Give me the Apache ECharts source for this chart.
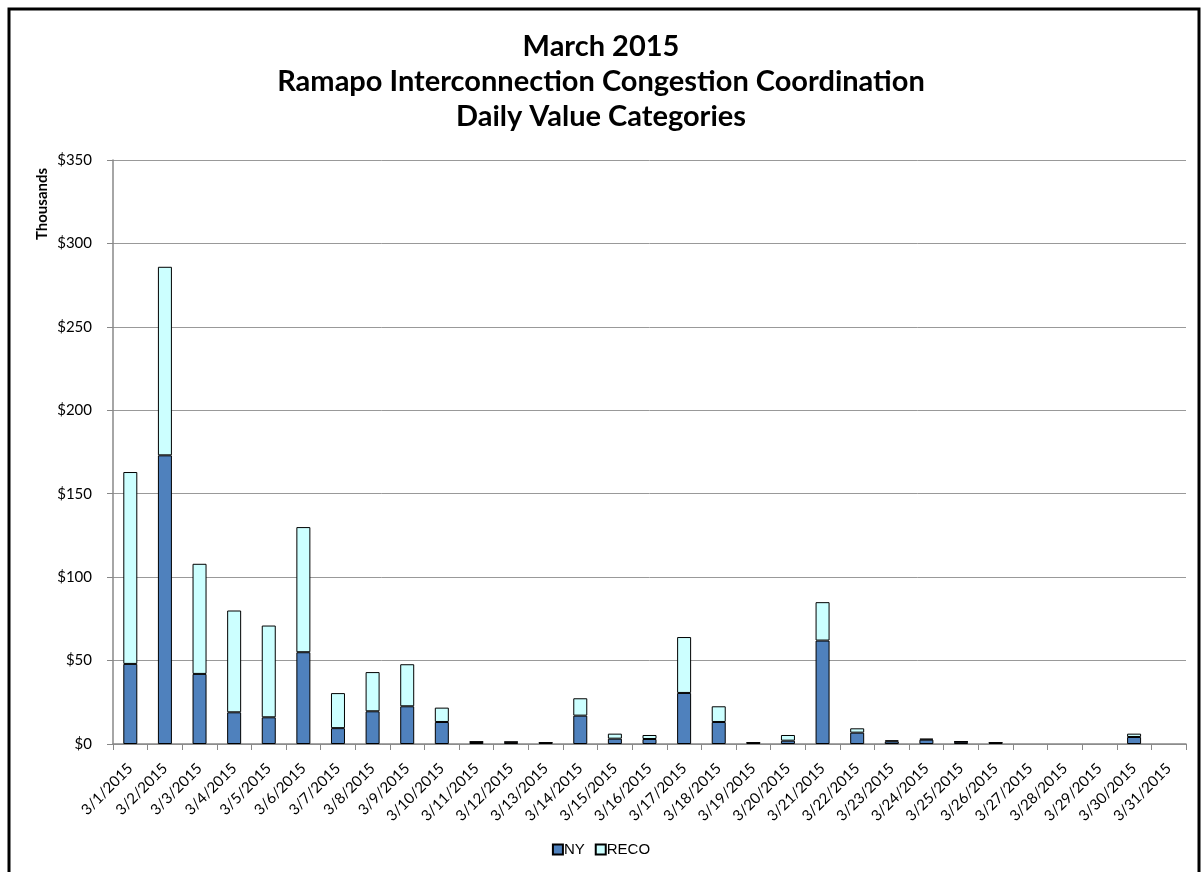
<!DOCTYPE html>
<html><head><meta charset="utf-8">
<script src="https://cdn.jsdelivr.net/npm/echarts@6/dist/echarts.min.js"></script>
<style>html,body{margin:0;padding:0;background:#fff}#c{width:1202px;height:872px}</style>
</head><body><div id="c"></div>
<script>
const categories = ['3/1/2015','3/2/2015','3/3/2015','3/4/2015','3/5/2015','3/6/2015','3/7/2015','3/8/2015','3/9/2015','3/10/2015','3/11/2015','3/12/2015','3/13/2015','3/14/2015','3/15/2015','3/16/2015','3/17/2015','3/18/2015','3/19/2015','3/20/2015','3/21/2015','3/22/2015','3/23/2015','3/24/2015','3/25/2015','3/26/2015','3/27/2015','3/28/2015','3/29/2015','3/30/2015','3/31/2015'];
const nyValues =   [48, 173, 42, 19, 16, 55, 9.5, 19.6, 22.6, 13.2, 1.2, 1.1, 0.7, 17, 3.2, 3.0, 30.6, 13.2, 0.7, 2.0, 62, 6.8, 1.6, 2.6, 1.3, 0.7, 0, 0, 0, 4.2, 0];
const recoValues = [115, 113, 66, 61, 55, 75, 21, 23.5, 25.2, 8.6, 0.3, 0.3, 0.2, 10.4, 3.0, 2.4, 33.5, 9.4, 0.2, 3.4, 23, 2.6, 0.6, 0.6, 0.3, 0.2, 0, 0, 0, 2.0, 0];
const yTicks = [0, 50, 100, 150, 200, 250, 300, 350];
const titleLines = ['March 2015', 'Ramapo Interconnection Congestion Coordination', 'Daily Value Categories'];

const chart = echarts.init(document.getElementById('c'), null, {renderer: 'canvas'});
const font = 'Lato, "Open Sans", sans-serif';
const noZero = arr => arr.map(v => v === 0 ? null : v);
chart.setOption({
  animation: false,
  backgroundColor: '#fff',
  title: {
    text: titleLines.join('\n'),
    left: 'center', top: 24,
    textStyle: {fontFamily: font, fontWeight: 'bold', fontSize: 29, color: '#000', lineHeight: 35}
  },
  graphic: [{
    type: 'rect', shape: {x: 9, y: 9, width: 1190, height: 880},
    style: {fill: 'none', stroke: '#000', lineWidth: 3}, silent: true
  }, {
    type: 'text', x: 35, y: 204, rotation: Math.PI / 2,
    style: {text: 'Thousands', fontFamily: 'Lato', fontWeight: 'bold', fontSize: 15, fill: '#000', align: 'center', verticalAlign: 'top'},
    silent: true
  }],
  legend: {
    bottom: 10, left: 'center',
    itemWidth: 10, itemHeight: 10, itemGap: 10,
    textStyle: {fontFamily: '"Liberation Sans", Arial, sans-serif', fontSize: 15, color: '#000', padding: [0,0,0,-4]},
    data: [{name: 'NY', icon: 'rect'}, {name: 'RECO', icon: 'rect'}]
  },
  grid: {left: 113, top: 160, right: 16, bottom: 128},
  xAxis: {
    type: 'category', data: categories,
    axisLine: {lineStyle: {color: '#888', width: 1.5}},
    axisTick: {show: true, alignWithLabel: false, length: 6, lineStyle: {color: '#888'}},
    axisLabel: {rotate: 45, fontFamily: font, fontSize: 15, color: '#000', interval: 0, margin: 22}
  },
  yAxis: {
    type: 'value', min: 0, max: 350, interval: 50,
    axisLine: {show: true, lineStyle: {color: '#888', width: 1.5}},
    axisTick: {show: true, length: 6, lineStyle: {color: '#888'}},
    splitLine: {lineStyle: {color: '#999', width: 1}},
    axisLabel: {fontFamily: font, fontSize: 15, color: '#000', margin: 21,
      formatter: v => yTicks.includes(v) ? '$' + v : ''}
  },
  series: [
    {name: 'NY', type: 'bar', stack: 'total', data: noZero(nyValues), barWidth: 14,
     itemStyle: {color: '#4F81BD', borderColor: '#000', borderWidth: 1}},
    {name: 'RECO', type: 'bar', stack: 'total', data: noZero(recoValues), barWidth: 14,
     itemStyle: {color: '#CCFFFF', borderColor: '#000', borderWidth: 1}}
  ]
});
</script></body></html>
